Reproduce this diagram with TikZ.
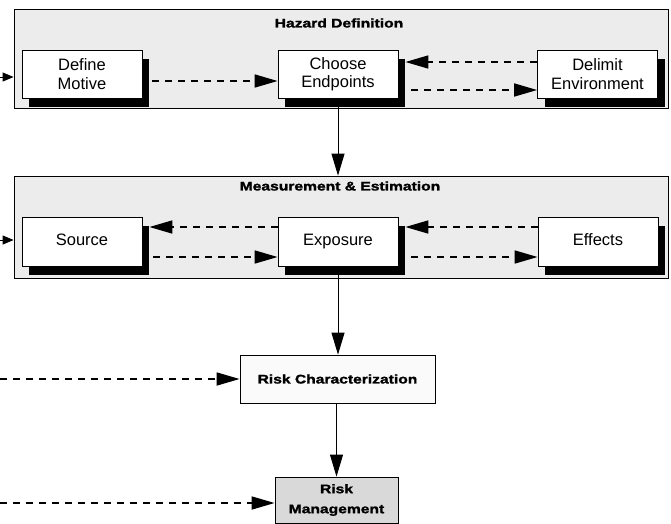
\documentclass[tikz,border=0pt]{standalone}
\usepackage{fontspec}
\setmainfont{Liberation Sans}
\newfontfamily\titlefont[FakeStretch=1.25,FakeBold=1.6]{Liberation Sans}
\usetikzlibrary{arrows.meta,shadows,calc}
\begin{document}
\begin{tikzpicture}[x=1pt,y=-1pt,
  group/.style={draw=black, line width=0.8pt, fill=gray!15, rectangle, inner sep=0pt},
  grouptitle/.style={font=\titlefont\bfseries\fontsize{12.5}{14}\selectfont, inner sep=0pt},
  stepbox/.style={draw=black, line width=0.8pt, fill=white, rectangle,
    minimum width=120pt, minimum height=48pt, inner sep=0pt, align=center,
    font=\fontsize{16.5}{18.5}\selectfont,
    drop shadow={shadow xshift=7pt, shadow yshift=-9pt, fill=black, opacity=1}},
  oneline/.style={text height=12pt, text depth=3.5pt},
  plainbox/.style={draw=black, line width=0.8pt, rectangle, inner sep=0pt, align=center,
    font=\titlefont\bfseries\fontsize{12.5}{20}\selectfont},
  solidarrow/.style={draw=black, line width=0.9pt, -{Triangle[length=22pt,width=13pt]}},
  inarrow/.style={draw=black, line width=0.9pt, -{Triangle[length=11pt,width=9pt]}},
  dasharrow/.style={draw=black, line width=1.7pt, dash pattern=on 7pt off 6pt,
    -{Triangle[length=23pt,width=13pt]}}
]
\useasboundingbox (0,0) rectangle (671,523);

% groups
\node[group, minimum width=654pt, minimum height=99pt] (g1) at (341,58.5) {};
\node[group, minimum width=654pt, minimum height=102pt] (g2) at (341,227) {};
\node[grouptitle] (t1) at (339,23) {Hazard Definition};
\node[grouptitle] (t2) at (340,186) {Measurement \& Estimation};

% boxes in group 1
\node[stepbox] (motive) at (82,74) {Define\\Motive};
\node[stepbox] (endpoints) at (338,74) {Choose\\Endpoints};
\node[stepbox] (environment) at (597.5,74) {Delimit\\Environment};

% boxes in group 2
\node[stepbox, oneline, minimum height=49pt] (source) at (82,241.5) {Source};
\node[stepbox, oneline, minimum height=49pt] (exposure) at (338,241.5) {Exposure};
\node[stepbox, oneline, minimum height=49pt] (effects) at (598,241.5) {Effects};

% lower boxes
\node[plainbox, fill=gray!4, minimum width=195pt, minimum height=48pt] (rc) at (337.5,379) {Risk Characterization};
\node[plainbox, fill=gray!30, minimum width=123pt, minimum height=46pt] (rm) at (336.5,500) {Risk\\Management};

% dashed arrows group 1
\draw[dasharrow] ([xshift=10pt,yshift=-7pt]motive.east) -- ([yshift=-7pt]endpoints.west);
\draw[dasharrow] ([yshift=12pt]environment.west) -- ([xshift=7pt,yshift=12pt]endpoints.east);
\draw[dasharrow] ([xshift=13pt,yshift=-16pt]endpoints.east) -- ([yshift=-16pt]environment.west);

% dashed arrows group 2
\draw[dasharrow] ([yshift=14.5pt]exposure.west) -- ([xshift=7pt,yshift=14.5pt]source.east);
\draw[dasharrow] ([xshift=11pt,yshift=-15.5pt]source.east) -- ([yshift=-15.5pt]exposure.west);
\draw[dasharrow] ([yshift=14.5pt]effects.west) -- ([xshift=7pt,yshift=14.5pt]exposure.east);
\draw[dasharrow] ([xshift=13pt,yshift=-15.5pt]exposure.east) -- ([yshift=-15.5pt]effects.west);

% vertical flow
\draw[solidarrow] (endpoints.south) -- (endpoints.south |- g2.north);
\draw[solidarrow] (exposure.south) -- (exposure.south |- rc.north);
\draw[solidarrow] (rc.south -| rm.north) -- (rm.north);

% inputs from the left
\coordinate (in1) at (0,77);
\coordinate (in2) at (0,240);
\coordinate (in3) at (0,379);
\coordinate (in4) at (0,503);
\draw[inarrow] (in1) -- (in1 -| g1.west);
\draw[inarrow] (in2) -- (in2 -| g2.west);
\draw[dasharrow] (in3) -- (rc.west);
\draw[dasharrow] (in4) -- (in4 -| rm.west);
\end{tikzpicture}
\end{document}
